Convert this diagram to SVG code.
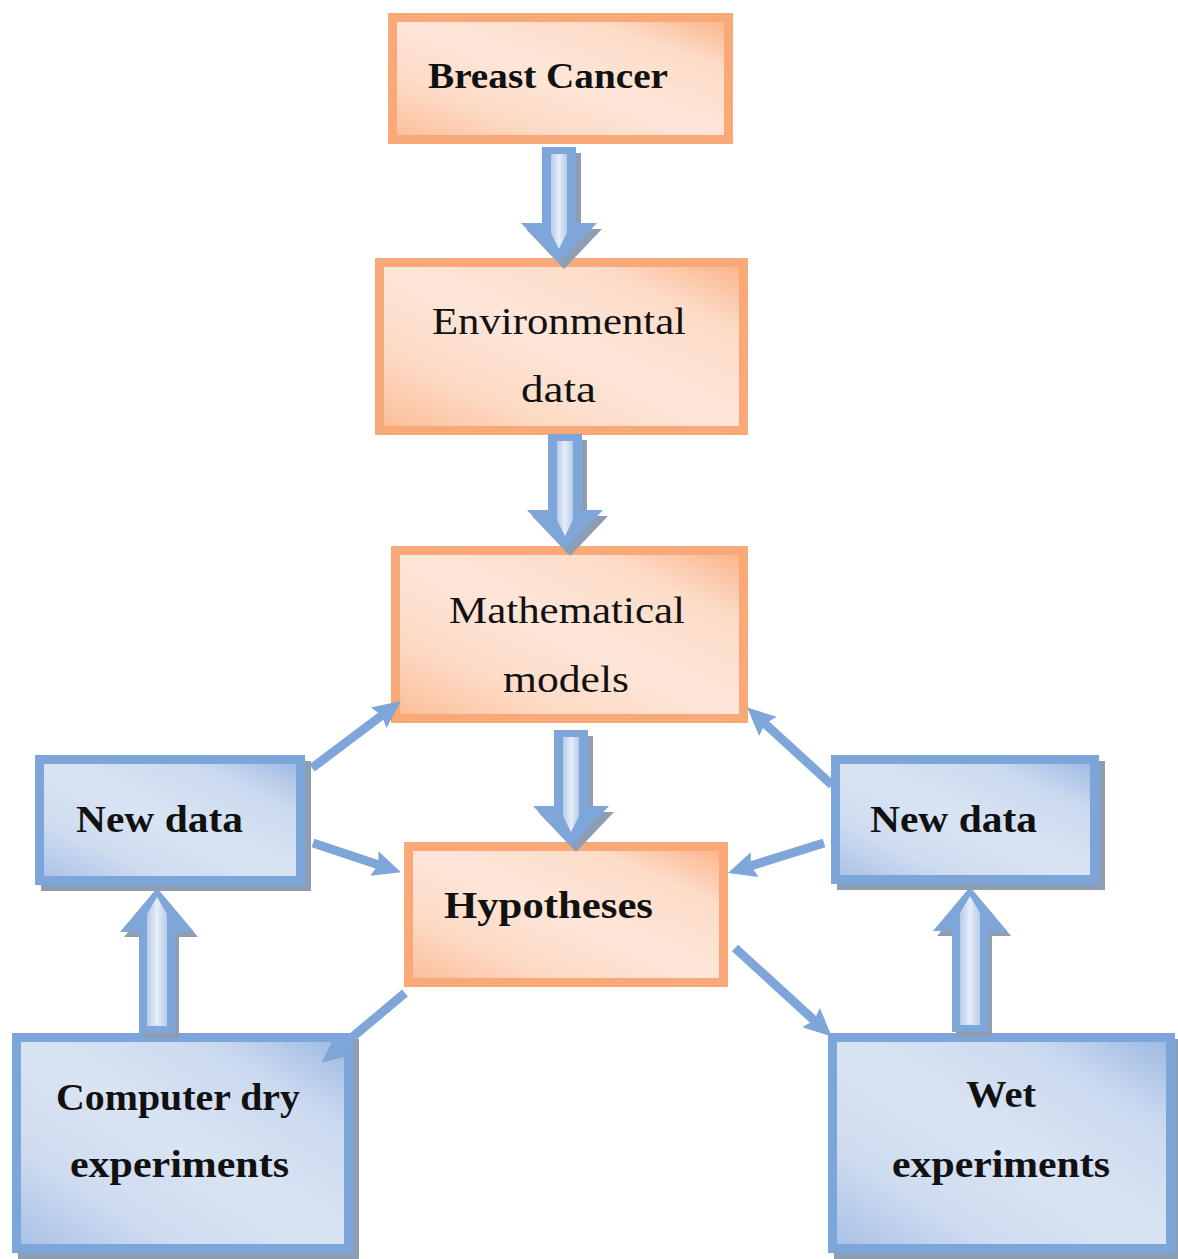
<svg xmlns="http://www.w3.org/2000/svg" width="1178" height="1259" viewBox="0 0 1178 1259">
<defs>
<linearGradient id="gOr" x1="0" y1="1" x2="1" y2="0">
<stop offset="0" stop-color="#fbbd96"/>
<stop offset="0.25" stop-color="#fddac5"/>
<stop offset="0.5" stop-color="#fde6d9"/>
<stop offset="0.78" stop-color="#fddcc8"/>
<stop offset="1" stop-color="#fab286"/>
</linearGradient>
<linearGradient id="gBl" x1="0" y1="1" x2="1" y2="0">
<stop offset="0" stop-color="#a7c0e6"/>
<stop offset="0.25" stop-color="#cfdcf0"/>
<stop offset="0.5" stop-color="#d9e4f3"/>
<stop offset="0.78" stop-color="#cbd9ef"/>
<stop offset="1" stop-color="#9ab7e2"/>
</linearGradient>
<linearGradient id="gAr" x1="0" y1="0" x2="1" y2="0">
<stop offset="0" stop-color="#b6cbea"/>
<stop offset="0.5" stop-color="#e6edf8"/>
<stop offset="1" stop-color="#b6cbea"/>
</linearGradient>
<marker id="ah" viewBox="0 0 28 26" markerWidth="28" markerHeight="26" refX="8" refY="13" orient="auto" markerUnits="userSpaceOnUse">
<path d="M0,0 L28,13 L0,26 L4,13 Z" fill="#7ea6d9"/>
</marker>
<path id="downOuter" d="M-17,0 H17 V76 H38 L0,116 L-38,76 H-17 Z"/>
<path id="downInner" d="M-8,7 H8 V86 L0,102 L-8,86 Z"/>
<path id="upOuter" d="M0,0 L37,44 H18 V145 H-18 V44 H-37 Z"/>
<path id="upInner" d="M0,9 L10,26 V138 H-10 V26 Z"/>
</defs>
<style>
.or{fill:url(#gOr);stroke:#f9a978;stroke-width:9}
.bl{fill:url(#gBl);stroke:#7ca5d9;stroke-width:9}
.sh{fill:#8d9db3}
.t{font-family:"Liberation Serif","Times New Roman",serif;fill:#111}
.b{font-weight:bold}
.ln{stroke:#7ea6d9;stroke-width:9;fill:none;marker-end:url(#ah)}
.ao{fill:#7ea6d9}
.ai{fill:url(#gAr)}
.as{fill:#8d9db3}
</style>
<rect width="1178" height="1259" fill="#ffffff"/>

<g id="node-breast-cancer">
<rect class="or" x="392.5" y="17.5" width="336" height="122"/>
<text class="t b" x="428" y="88" font-size="35" textLength="240" lengthAdjust="spacingAndGlyphs">Breast Cancer</text>
</g>

<g id="node-environmental-data">
<rect class="or" x="379.5" y="262.5" width="364" height="168"/>
<text class="t" x="432" y="334" font-size="38" textLength="254" lengthAdjust="spacingAndGlyphs">Environmental</text>
<text class="t" x="521" y="402" font-size="38" textLength="75" lengthAdjust="spacingAndGlyphs">data</text>
</g>

<g id="node-mathematical-models">
<rect class="or" x="395.5" y="550.5" width="348" height="168"/>
<text class="t" x="449" y="623" font-size="38" textLength="236" lengthAdjust="spacingAndGlyphs">Mathematical</text>
<text class="t" x="503" y="692" font-size="38" textLength="126" lengthAdjust="spacingAndGlyphs">models</text>
</g>

<g id="node-hypotheses">
<rect class="or" x="408.5" y="846.5" width="315" height="136"/>
<text class="t b" x="444" y="918" font-size="38" textLength="209" lengthAdjust="spacingAndGlyphs">Hypotheses</text>
</g>

<g id="node-new-data-left">
<rect class="sh" x="41" y="761" width="270" height="130"/>
<rect class="bl" x="39.5" y="759.5" width="261" height="121"/>
<text class="t b" x="76" y="832" font-size="38" textLength="167" lengthAdjust="spacingAndGlyphs">New data</text>
</g>

<g id="node-new-data-right">
<rect class="sh" x="837" y="761" width="268" height="129"/>
<rect class="bl" x="835.5" y="759.5" width="259" height="120"/>
<text class="t b" x="870" y="832" font-size="38" textLength="167" lengthAdjust="spacingAndGlyphs">New data</text>
</g>

<g id="node-computer-dry-experiments">
<rect class="sh" x="18" y="1039" width="341" height="220"/>
<rect class="bl" x="16.5" y="1037.5" width="332" height="211"/>
<text class="t b" x="56" y="1110" font-size="38" textLength="244" lengthAdjust="spacingAndGlyphs">Computer dry</text>
<text class="t b" x="70" y="1177" font-size="38" textLength="219" lengthAdjust="spacingAndGlyphs">experiments</text>
</g>

<g id="node-wet-experiments">
<rect class="sh" x="834" y="1039" width="347" height="220"/>
<rect class="bl" x="832.5" y="1037.5" width="338" height="211"/>
<text class="t b" x="966" y="1107" font-size="38" textLength="70" lengthAdjust="spacingAndGlyphs">Wet</text>
<text class="t b" x="892" y="1177" font-size="38" textLength="218" lengthAdjust="spacingAndGlyphs">experiments</text>
</g>

<g id="connectors">
<g transform="translate(559,147)">
<use href="#downOuter" class="as" transform="translate(5,6)"/>
<use href="#downOuter" class="ao"/>
<use href="#downInner" class="ai"/>
</g>
<g transform="translate(565,434)">
<use href="#downOuter" class="as" transform="translate(5,6)"/>
<use href="#downOuter" class="ao"/>
<use href="#downInner" class="ai"/>
</g>
<g transform="translate(571,730)">
<use href="#downOuter" class="as" transform="translate(5,6)"/>
<use href="#downOuter" class="ao"/>
<use href="#downInner" class="ai"/>
</g>
<g transform="translate(157,888)">
<use href="#upOuter" class="as" transform="translate(4,5)"/>
<use href="#upOuter" class="ao"/>
<use href="#upInner" class="ai"/>
</g>
<g transform="translate(970,887)">
<use href="#upOuter" class="as" transform="translate(4,5)"/>
<use href="#upOuter" class="ao"/>
<use href="#upInner" class="ai"/>
</g>
<line class="ln" x1="312" y1="768" x2="385" y2="713"/>
<line class="ln" x1="313" y1="843" x2="382" y2="866"/>
<line class="ln" x1="832" y1="785" x2="762" y2="721"/>
<line class="ln" x1="824" y1="843" x2="747" y2="867"/>
<line class="ln" x1="735" y1="948" x2="817" y2="1023"/>
<line class="ln" x1="405" y1="993" x2="337" y2="1050"/>
</g>
</svg>
